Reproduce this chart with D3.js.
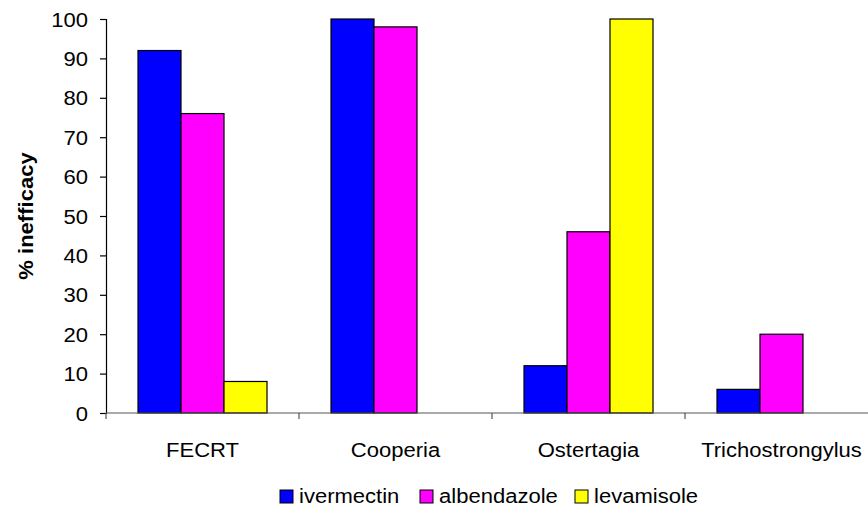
<!DOCTYPE html>
<html>
<head>
<meta charset="utf-8">
<script src="https://cdn.jsdelivr.net/npm/d3@7"></script>
<style>
  html, body { margin: 0; padding: 0; background: #fff; }
  svg { display: block; font-family: "Liberation Sans", Arial, Helvetica, sans-serif; }
</style>
</head>
<body>
<svg id="chart" width="868" height="518"></svg>
<script>
// Groups along the x axis
const categories = ["FECRT", "Cooperia", "Ostertagia", "Trichostrongylus"];
// One series per drug
const seriesNames = ["ivermectin", "albendazole", "levamisole"];
const ivermectin  = [92, 100, 12, 6];
const albendazole = [76, 98, 46, 20];
const levamisole  = [8, 0, 100, 0];
const yTicks = [0, 10, 20, 30, 40, 50, 60, 70, 80, 90, 100];
const colors = ["#0000ff", "#ff00ff", "#ffff00"];

const values = [ivermectin, albendazole, levamisole];

const svg = d3.select("#chart");
const x0 = 106, x1 = 878, yTop = 19, yBottom = 413;
const fontSize = 19.5;
const stretch = 1.13;   // labels are set slightly wide

const x = d3.scaleBand().domain(categories).range([x0, x1]).paddingInner(0).paddingOuter(0);
const xs = d3.scaleBand().domain(seriesNames).range([0, x.bandwidth()]).paddingInner(0).paddingOuter(0.744);
const y = d3.scaleLinear().domain([0, 100]).range([yBottom, yTop]);

// Bars
const groups = svg.append("g").selectAll("g")
  .data(categories)
  .join("g")
  .attr("transform", d => `translate(${x(d)},0)`);

groups.selectAll("rect")
  .data((c, ci) => seriesNames.map((s, si) => ({ s, si, v: values[si][ci] })).filter(d => d.v > 0))
  .join("rect")
  .attr("x", d => xs(d.s))
  .attr("y", d => y(d.v))
  .attr("width", xs.bandwidth())
  .attr("height", d => y(0) - y(d.v))
  .attr("fill", d => colors[d.si])
  .attr("stroke", "#000")
  .attr("stroke-width", 1.2);

// Y axis
const yAxis = d3.axisLeft(y).tickValues(yTicks).tickSize(6).tickPadding(0).tickFormat(d3.format("d"));
const gy = svg.append("g").attr("transform", `translate(${x0},0)`).call(yAxis);
gy.select(".domain").attr("stroke", "#000").attr("stroke-width", 1.2);
gy.selectAll(".tick line").attr("stroke", "#000").attr("stroke-width", 1.2);
gy.selectAll(".tick text")
  .attr("font-size", fontSize).attr("fill", "#000")
  .attr("font-family", "Liberation Sans, Arial, sans-serif")
  .attr("x", -18 / stretch)
  .attr("dy", "0.36em")
  .attr("transform", `scale(${stretch},1)`);

// X axis with ticks between categories
const boundaries = categories.map(c => x(c)).concat([x1]);
const gx = svg.append("g").attr("transform", `translate(0,${yBottom})`);
gx.append("line").attr("x1", x0).attr("x2", x1).attr("stroke", "#555").attr("stroke-width", 1.2);
gx.selectAll("line.tk").data(boundaries).join("line")
  .attr("class", "tk")
  .attr("x1", d => d).attr("x2", d => d)
  .attr("y1", 0).attr("y2", 6)
  .attr("stroke", "#555").attr("stroke-width", 1.2);
gx.selectAll("text").data(categories).join("text")
  .attr("transform", d => `translate(${x(d) + x.bandwidth() / 2},44) scale(${stretch},1)`)
  .attr("text-anchor", "middle")
  .attr("font-size", fontSize)
  .attr("fill", "#000")
  .text(d => d);

// Y axis title
svg.append("text")
  .attr("transform", `translate(33,${(yTop + yBottom) / 2}) rotate(-90) scale(${stretch},1)`)
  .attr("text-anchor", "middle")
  .attr("font-size", fontSize)
  .attr("font-weight", "bold")
  .attr("fill", "#000")
  .text("% inefficacy");

// Legend
const legendX = [280, 420, 575];
const legend = svg.append("g").selectAll("g").data(seriesNames).join("g")
  .attr("transform", (d, i) => `translate(${legendX[i]},490)`);
legend.append("rect")
  .attr("width", 13).attr("height", 13)
  .attr("fill", (d, i) => colors[i])
  .attr("stroke", "#000").attr("stroke-width", 1);
legend.append("text")
  .attr("transform", `translate(19,13) scale(${stretch},1)`)
  .attr("font-size", fontSize)
  .attr("fill", "#000")
  .text(d => d);
</script>
</body>
</html>
